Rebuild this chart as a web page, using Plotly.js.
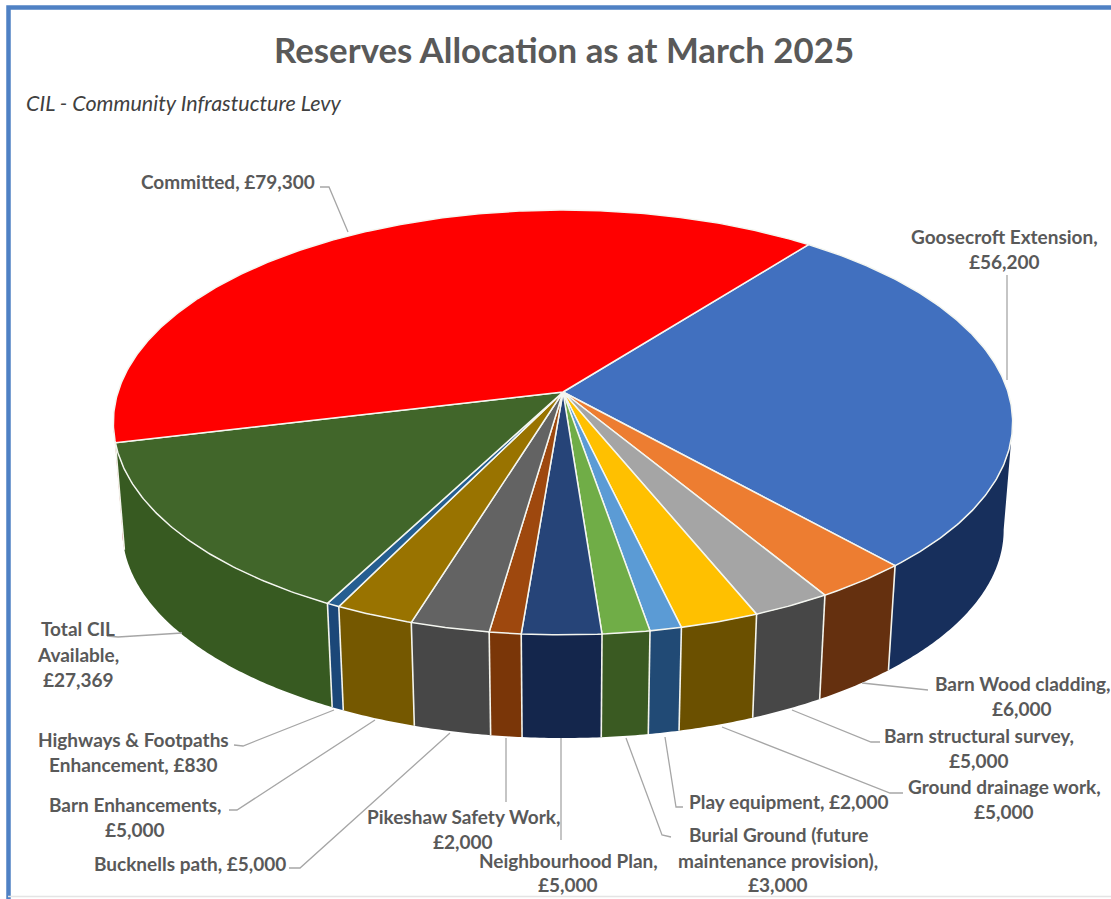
<!DOCTYPE html>
<html>
<head>
<meta charset="utf-8">
<script src="https://cdn.plot.ly/plotly-3.0.1.min.js"></script>
<style>html,body{margin:0;padding:0;background:#fff;overflow:hidden}#chart{width:1111px;height:899px}</style>
</head>
<body>
<div id="chart"></div>
<script>
// ---- data ----
const categories = ["Goosecroft Extension","Barn Wood cladding","Barn structural survey","Ground drainage work","Play equipment","Burial Ground (future maintenance provision)","Neighbourhood Plan","Pikeshaw Safety Work","Bucknells path","Barn Enhancements","Highways & Footpaths Enhancement","Total CIL Available","Committed"];
const values = [56200,6000,5000,5000,2000,3000,5000,2000,5000,5000,830,27369,79300];
const topColors = ["#4170BF","#ED7D31","#A5A5A5","#FFC000","#5B9BD5","#70AD47","#264478","#9E480E","#636363","#997300","#255E91","#41662A","#FF0000"];
const sideColors = ["#172F5C","#65300F","#474747","#6B5000","#214A75","#3A5A22","#14264C","#7A3608","#474747","#755800","#1B4778","#375A21","#A00000"];
const chartTitle = "Reserves Allocation as at March 2025";
const subTitle = "CIL - Community Infrastucture Levy";

// label text, one entry per printed line
const labelLines = [
 ["Goosecroft Extension,","£56,200"],["Barn Wood cladding,","£6,000"],["Barn structural survey,","£5,000"],
 ["Ground drainage work,","£5,000"],["Play equipment, £2,000"],["Burial Ground (future","maintenance provision),","£3,000"],
 ["Neighbourhood Plan,","£5,000"],["Pikeshaw Safety Work,","£2,000"],["Bucknells path, £5,000"],
 ["Barn Enhancements,","£5,000"],["Highways & Footpaths","Enhancement, £830"],["Total CIL","Available,","£27,369"],["Committed, £79,300"]];
// label placement: centre x, y of each line
const labelX = [1004,1022,979,1004,789,778,568,463,190,135,133,78,228];
const labelY = [[236,261],[683,708],[735,760],[786,811],[801],[834,860,884],[860,884],[816,841],[863],[804,829],[739,764],[628,654,679],[181]];
// leader paths
const leaders = [
 [[1007,275],[1007,380]],[[928,690],[862,683]],[[880,742],[871,742],[792,710]],[[903,793],[890,793],[722,727]],
 [[683,807],[676,807],[665,737]],[[671,837],[662,835],[626,738]],[[561,840],[561,738]],[[506,802],[506,738]],
 [[289,868],[300,868],[450,733]],[[229,810],[237,810],[375,720]],[[234,745],[243,746],[334,710]],[[107,636],[118,637],[182,633]],
 [[320,187],[329,187],[348,232]]];

// ---- pie geometry: a circle seen in perspective, extruded downwards ----
const cx=563, cy=392, A=445, B=208, K=0.1435, START=37.9, DROP=108, SHRINK=0.98;
const total = values.reduce((a,b)=>a+b,0);
// rim angles where the disc reaches its widest: walls only show between them
const EDGE=Math.acos(-K)*180/Math.PI, EDGE2=360-EDGE;
function rim(deg){const t=deg*Math.PI/180,u=Math.sin(t),v=-Math.cos(t),w=1-K*v;return [cx+A*u/w,cy+B*v/w];}
function low(p){return [cx+SHRINK*(p[0]-cx),cy+DROP+SHRINK*(p[1]-cy)];}
function arc(a,b){const n=Math.max(2,Math.ceil((b-a)*2)),o=[];for(let i=0;i<=n;i++)o.push(rim(a+(b-a)*i/n));return o;}

const sides=[],seams=[],tops=[];
let acc=START;
values.forEach((val,i)=>{
  const a=acc,b=acc+val/total*360;acc=b;
  const hover=categories[i]+": £"+val.toLocaleString("en-GB");
  const wa=Math.max(a,EDGE),wb=Math.min(b,EDGE2);
  if(wb>wa){
    const r=arc(wa,wb),s=r.concat(r.map(low).reverse());s.push(r[0]);
    sides.push({type:"scatter",mode:"none",x:s.map(p=>p[0]),y:s.map(p=>p[1]),fill:"toself",fillcolor:sideColors[i],hoverinfo:"text",text:hover,showlegend:false});
  }
  const p0=rim(a),p1=low(p0);
  seams.push({type:"scatter",mode:"lines",x:[p0[0],p1[0]],y:[p0[1],p1[1]],line:{color:"#F4F4EC",width:1.6},hoverinfo:"skip",showlegend:false});
  const t=[[cx,cy]].concat(arc(a,b));t.push([cx,cy]);
  tops.push({type:"scatter",mode:"lines",x:t.map(p=>p[0]),y:t.map(p=>p[1]),fill:"toself",fillcolor:topColors[i],line:{color:"#F4F6F0",width:1.5},hoverinfo:"text",text:hover,showlegend:false});
});

const shapes=leaders.map(L=>({type:"path",xref:"x",yref:"y",path:L.map((p,i)=>(i?"L":"M")+p[0]+" "+p[1]).join(" "),line:{color:"#A6A6A6",width:1.3},layer:"above"}));
// picture frame
shapes.push({type:"path",xref:"x",yref:"y",path:"M8.5 899 L8.5 7.5 L1111 7.5",line:{color:"#4F81C4",width:4.5},layer:"below"});
shapes.push({type:"line",xref:"x",yref:"y",x0:8,x1:1111,y0:896.5,y1:896.5,line:{color:"#E4E4E4",width:1.5},layer:"below"});

const annotations=[];
labelLines.forEach((lines,i)=>lines.forEach((txt,j)=>annotations.push({
  xref:"x",yref:"y",x:labelX[i],y:labelY[i][j],text:txt,showarrow:false,xanchor:"center",yanchor:"middle",
  font:{family:"Lato, sans-serif",size:19,color:"#595959",weight:700}})));
annotations.push({xref:"x",yref:"y",x:564,y:49,text:"<b>"+chartTitle+"</b>",showarrow:false,xanchor:"center",yanchor:"middle",font:{family:"Lato, sans-serif",size:34.8,color:"#595959"}});
annotations.push({xref:"x",yref:"y",x:24,y:103,text:"<i>"+subTitle+"</i>",showarrow:false,xanchor:"left",yanchor:"middle",font:{family:"Lato, sans-serif",size:21.5,color:"#404040"}});

Plotly.newPlot("chart",sides.concat(seams,tops),{
  width:1111,height:899,margin:{l:0,r:0,t:0,b:0},paper_bgcolor:"#fff",plot_bgcolor:"#fff",showlegend:false,
  xaxis:{range:[0,1111],visible:false,fixedrange:true},
  yaxis:{range:[899,0],visible:false,fixedrange:true},
  shapes:shapes,annotations:annotations
},{displayModeBar:false});
</script>
</body>
</html>
